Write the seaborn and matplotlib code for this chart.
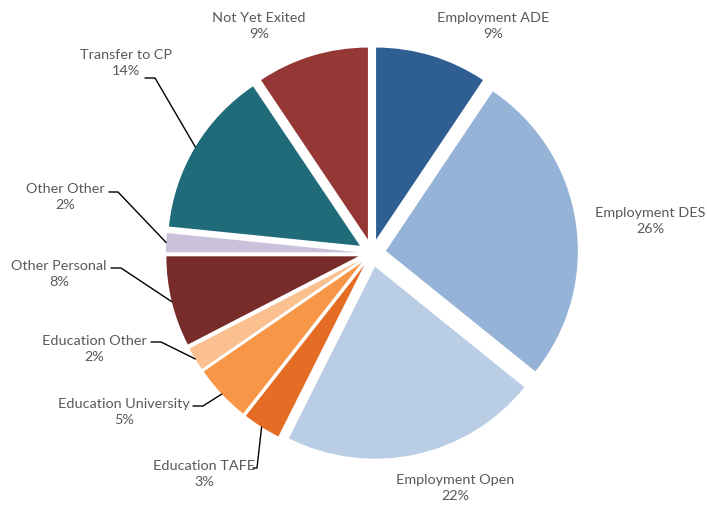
#!/usr/bin/env python3
"""Pie chart of exit destinations"""

import numpy as np
import seaborn as sns
import matplotlib.pyplot as plt

###########################################################
# Data
###########################################################

categories = [
    "Employment ADE",
    "Employment DES",
    "Employment Open",
    "Education TAFE",
    "Education University",
    "Education Other",
    "Other Personal",
    "Other Other",
    "Transfer to CP",
    "Not Yet Exited",
]
shares = [9.4, 26.4, 21.6, 3.2, 4.8, 2.0, 7.6, 1.6, 14.0, 9.4]
colours = [
    "#2E5E92", "#95B3D7", "#B9CDE5", "#E46C24", "#F79646",
    "#FAC090", "#772C2A", "#CCC1DA", "#1F6B7A", "#953735",
]

###########################################################
# Layout (pixels in a 707x506 image)
###########################################################

W, H = 707, 506
CX, CY, R = 372, 254, 192

label_px = [
    (493, 26), (650, 221), (455, 488), (204, 474), (124, 412),
    (94, 349), (59, 274), (65, 197), (126, 63), (259, 26),
]
# leader line points, from the text side towards the slice
leader_px = [
    None, None, None,
    [(253, 469), (257, 469)],
    [(193, 407), (203, 407)],
    [(151, 343), (161, 343)],
    [(111, 269), (121, 269)],
    [(109, 193), (118, 193)],
    [(145, 79), (155, 79)],
    None,
]


def to_data(px, py):
    return (px - CX) / R, (CY - py) / R


###########################################################
# Main
###########################################################

sns.set_theme(style="white")
plt.rcParams["font.family"] = ["Lato", "DejaVu Sans"]

fig = plt.figure(figsize=(W / 100, H / 100), dpi=100)
ax = fig.add_axes([0, 0, 1, 1])

wedges, _ = ax.pie(
    shares,
    colors=colours,
    startangle=90,
    counterclock=False,
    explode=[0.073] * len(shares),
    wedgeprops=dict(linewidth=0),
)

ax.set_xlim(-CX / R, (W - CX) / R)
ax.set_ylim(-(H - CY) / R, CY / R)
ax.set_aspect("equal")
ax.axis("off")

total = sum(shares)
for cat, val, wedge, pos, lead in zip(categories, shares, wedges, label_px, leader_px):
    x, y = to_data(*pos)
    ax.text(
        x, y, f"{cat}\n{round(val / total * 100):.0f}%",
        ha="center", va="center", fontsize=10.4, color="#595959", linespacing=1.45,
    )
    if lead is not None:
        mid = np.deg2rad((wedge.theta1 + wedge.theta2) / 2)
        wx, wy = wedge.center
        anchor = (wx + wedge.r * np.cos(mid), wy + wedge.r * np.sin(mid))
        pts = [to_data(*p) for p in lead] + [anchor]
        xs, ys = zip(*pts)
        ax.plot(xs, ys, color="black", linewidth=1)

fig.savefig("out.png", dpi=100)
